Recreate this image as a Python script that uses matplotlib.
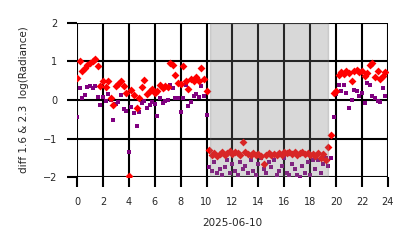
import numpy as np
import matplotlib.pyplot as plt

# diff of log radiance, sampled every 0.2 h over the day
red_vals = [0.57, 1.02, 0.75, 0.82, 0.9, 0.95, 1.0, 1.07, 0.88, 0.35,
            0.5, 0.33, 0.5, 0.05, -0.12, 0.35, 0.42, 0.48, 0.36, 0.18,
            -1.97, 0.26, 0.13, -0.22, 0.05, 0.33, 0.52, 0.15, 0.22, 0.28,
            0.17, 0.22, 0.38, 0.3, 0.35, 0.33, 0.97, 0.9, 0.65, 0.45,
            0.42, 0.89, 0.5, 0.28, 0.55, 0.5, 0.6, 0.48, 0.83, 0.55,
            0.22, -1.3,
            -1.42, -1.38, -1.45, -1.4, -1.36, -1.42, -1.38, -1.33, -1.4, -1.35, -1.38, -1.42,
            -1.1, -1.36, -1.4, -1.44, -1.38, -1.42, -1.4, -1.45, -1.65, -1.42, -1.38,
            -1.44, -1.4, -1.42, -1.38, -1.44, -1.35, -1.38, -1.34, -1.4, -1.36, -1.42,
            -1.38, -1.35, -1.4, -1.37, -1.44, -1.4, -1.45, -1.38, -1.5, -1.4, -1.55,
            -1.22, -0.9, 0.18, 0.22, 0.65, 0.72, 0.68, 0.75, 0.7, 0.48, 0.74, 0.78,
            0.72, 0.76, 0.62, 0.7, 0.9, 0.95, 0.6, 0.75, 0.55, 0.62, 0.72]

purple_vals = [-0.45, 0.3, 0.05, 0.13, 0.33, 0.37, 0.3, 0.36, 0.07, -0.13,
               0.07, -0.03, 0.15, 0.0, -0.52, -0.1, -0.05, 0.13, -0.24, -0.28,
               -1.35, -0.18, -0.35, -0.68, -0.3, -0.08, -0.02, -0.22, -0.14, -0.05,
               -0.1, -0.42, 0.05, -0.07, -0.02, 0.0, 0.39, 0.3, 0.04, 0.04,
               -0.3, 0.04, 0.39, -0.17, -0.05, 0.09, 0.15, 0.08, 0.35, 0.1,
               -0.4, -1.73,
               -1.85, -1.6, -1.9, -1.8, -1.95, -1.75, -1.55, -1.9, -1.65, -1.85,
               -1.95, -1.6, -1.8, -1.7, -1.9, -1.55, -1.85, -1.95, -1.65, -1.5,
               -1.8, -1.9, -1.6, -1.75, -1.55, -1.95, -1.85, -1.7, -1.5, -1.9,
               -1.95, -1.65, -1.8, -1.95, -2.0, -1.7, -1.9, -1.6, -1.95, -1.55,
               -1.8, -1.55, -1.9, -1.65, -1.5,
               -1.7, -1.5, -0.43, 0.15, 0.4, 0.22, 0.4, 0.18, -0.22, 0.0, 0.27,
               0.22, 0.1, 0.18, -0.09, 0.44, 0.4, 0.09, 0.05, -0.04, -0.05, 0.31, 0.1]

hours = np.arange(len(red_vals)) * 0.2
night = (10.3, 19.4)
xticks = list(range(0, 25, 2))
yticks = [-2, -1, 0, 1, 2]

fig = plt.figure(figsize=(4.14, 2.48), dpi=100)
ax = fig.add_axes([0.186, 0.286, 0.751, 0.622])

ax.scatter(hours, purple_vals, marker='s', s=9, color='purple', linewidths=0, zorder=2)
ax.scatter(hours, red_vals, marker='D', s=16, color='red', linewidths=0, zorder=2)
ax.axvspan(night[0], night[1], color='gray', alpha=0.3, zorder=3)

ax.set_xlim(0, 24)
ax.set_ylim(-2, 2)
ax.set_xticks(xticks)
ax.set_yticks(yticks)
ax.set_yticklabels(['\u22122', '\u22121', '0', '1', '2'])
ax.set_axisbelow(True)
ax.grid(True, color='black', linewidth=1.5)
ax.tick_params(length=7, width=1.5, color='black', labelsize=7, labelcolor='0.15', pad=7)
for s in ax.spines.values():
    s.set_visible(False)

ax.set_xlabel('2025-06-10', fontsize=7.5, color='0.15', labelpad=8)
ax.set_ylabel('diff 1.6 & 2.3  log(Radiance)', fontsize=7.5, color='0.15', labelpad=10)

fig.savefig('out.png', dpi=100)
